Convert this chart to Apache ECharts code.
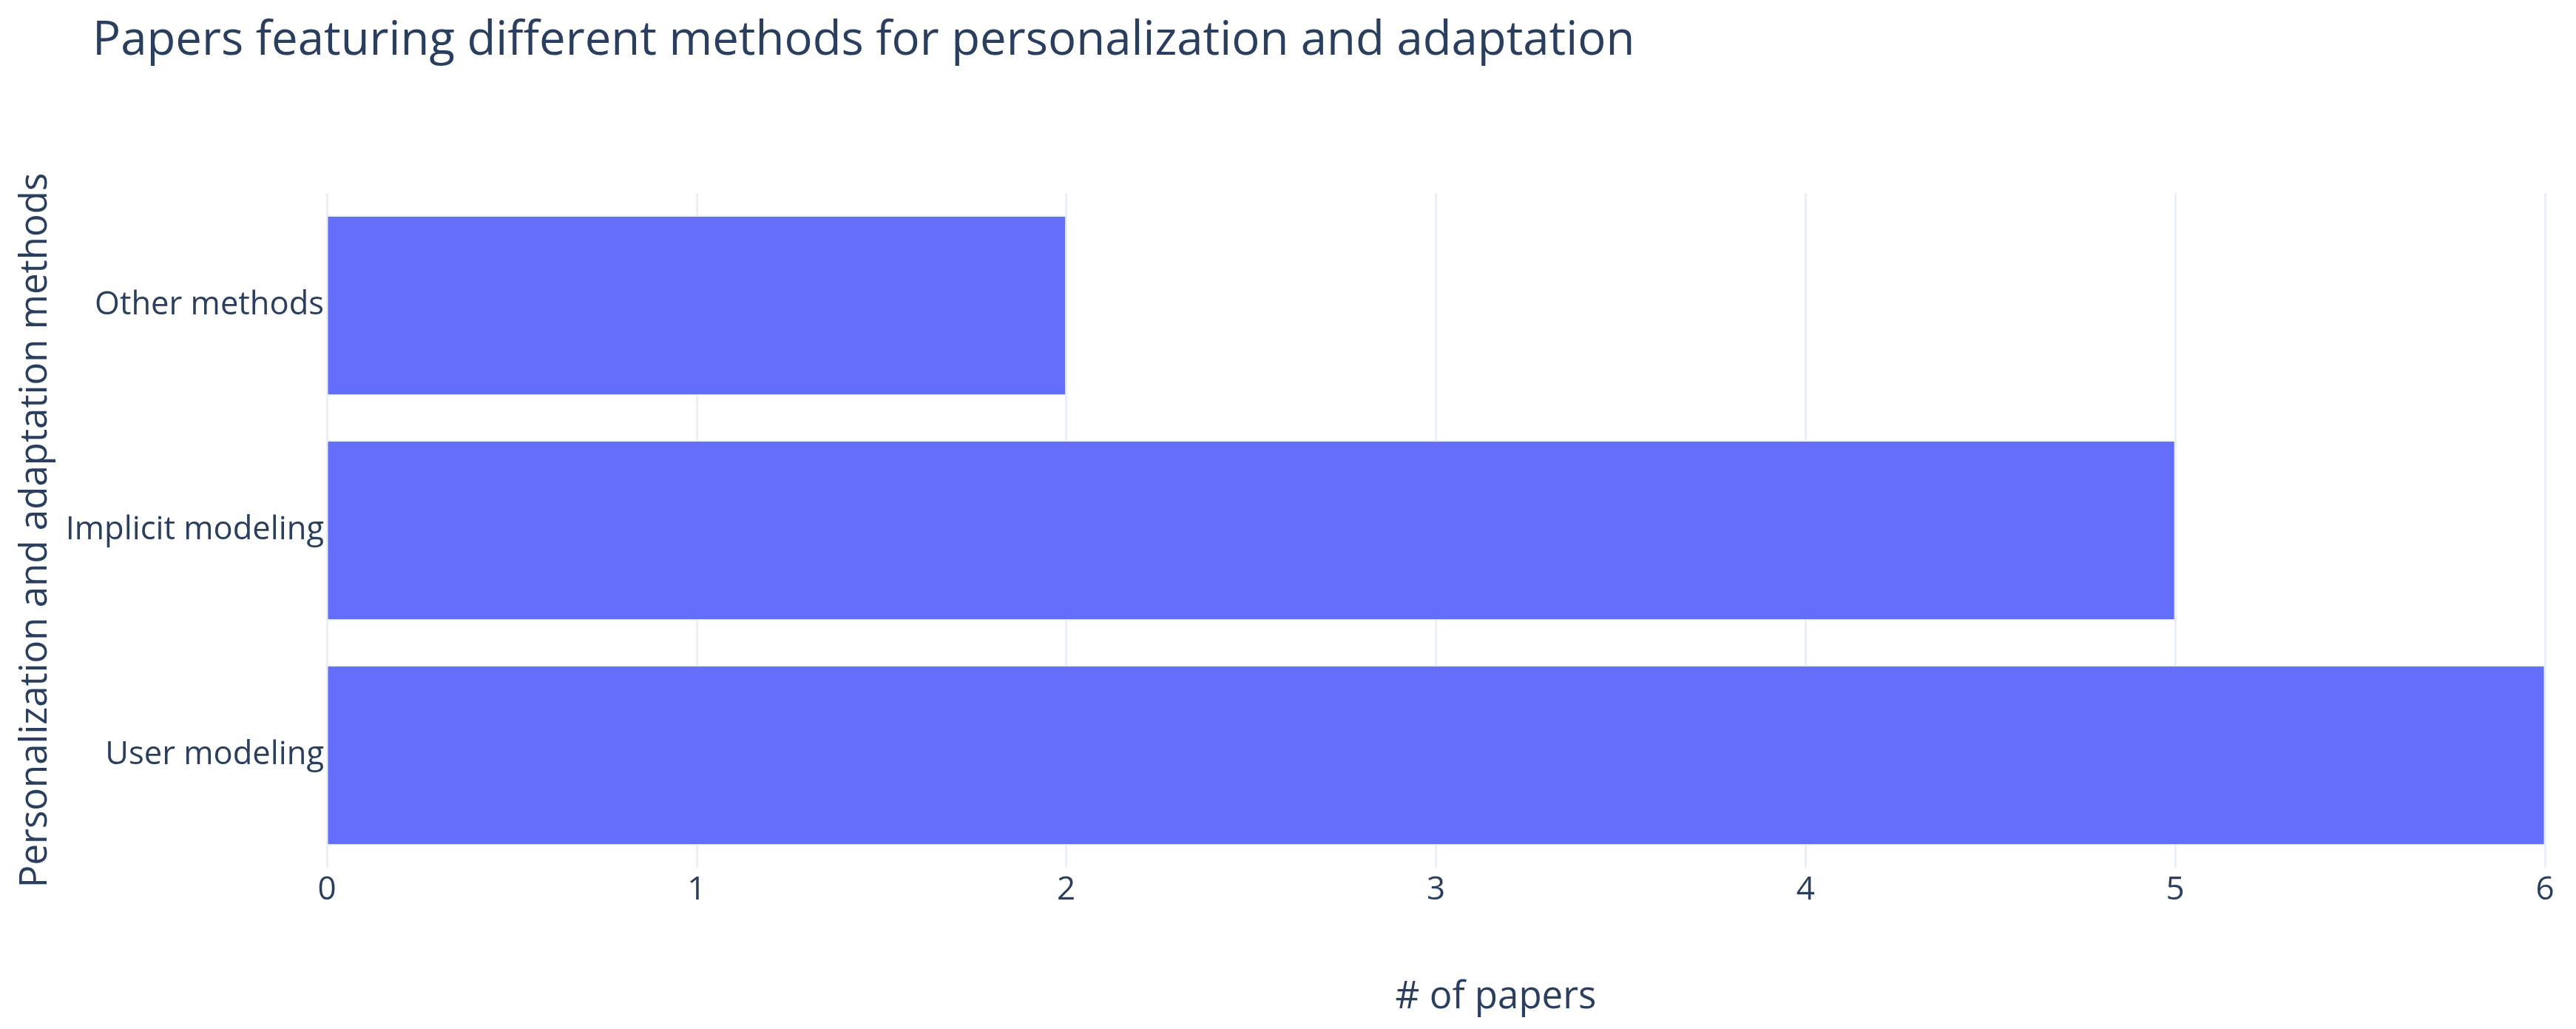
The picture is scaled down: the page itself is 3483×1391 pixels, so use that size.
<!DOCTYPE html>
<html>
<head>
<meta charset="utf-8">
<script src="https://cdn.jsdelivr.net/npm/echarts@6/dist/echarts.min.js"></script>
<style>
  html, body { margin: 0; padding: 0; background: #fff; }
  #chart { width: 3483px; height: 1391px; }
</style>
</head>
<body>
<div id="chart"></div>
<script>
  // data (bottom to top)
  const methods = ['User modeling', 'Implicit modeling', 'Other methods'];
  const paperCounts = [6, 5, 2];
  const xTicks = [0, 1, 2, 3, 4, 5, 6];

  const textColor = '#2a3f5f';
  const font = '"Open Sans", "Noto Sans", sans-serif';

  const chart = echarts.init(document.getElementById('chart'));
  chart.setOption({
    animation: false,
    backgroundColor: '#fff',
    title: {
      text: 'Papers featuring different methods for personalization and adaptation',
      left: 120,
      top: 19,
      textStyle: { color: textColor, fontFamily: font, fontSize: 63.5, fontWeight: 'normal' },
    },
    grid: {
      left: 442,
      right: 42,
      top: 261,
      bottom: 218,
    },
    xAxis: {
      type: 'value',
      min: xTicks[0],
      max: xTicks[xTicks.length - 1],
      interval: 1,
      name: '# of papers',
      nameLocation: 'middle',
      nameGap: 150,
      nameTextStyle: { color: textColor, fontFamily: font, fontSize: 51, padding: [0, 0, 0, 162] },
      axisLine: { show: false },
      axisTick: { show: false },
      axisLabel: { color: textColor, fontFamily: font, fontSize: 44, margin: 8 },
      splitLine: { lineStyle: { color: '#ebf0f8', width: 3 } },
    },
    yAxis: {
      type: 'category',
      data: methods,
      name: 'Personalization and adaptation methods',
      nameLocation: 'middle',
      nameRotate: 90,
      nameGap: 368,
      nameTextStyle: { color: textColor, fontFamily: font, fontSize: 51 },
      axisLine: { show: false },
      axisTick: { show: false },
      axisLabel: { color: textColor, fontFamily: font, fontSize: 43.5, margin: 4 },
      splitLine: { show: false },
    },
    series: [
      {
        type: 'bar',
        data: paperCounts,
        barCategoryGap: '20%',
        itemStyle: { color: '#636efa', borderColor: '#e5ecf6', borderWidth: 1.5 },
      },
    ],
  });
</script>
</body>
</html>
